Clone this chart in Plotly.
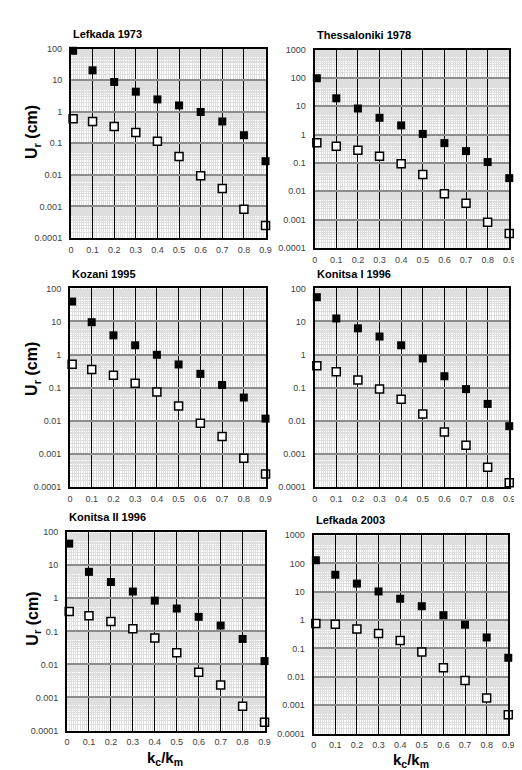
import plotly.graph_objects as go

W, H = 522, 770

# ---------------- data ----------------
kc_km = [0.01, 0.1, 0.2, 0.3, 0.4, 0.5, 0.6, 0.7, 0.8, 0.9]
x_tick_vals = [0, 0.1, 0.2, 0.3, 0.4, 0.5, 0.6, 0.7, 0.8, 0.9]
x_tick_labels = ["0", "0.1", "0.2", "0.3", "0.4", "0.5", "0.6", "0.7", "0.8", "0.9"]
y_tick_vals = [1e-4, 1e-3, 1e-2, 1e-1, 1, 10, 100, 1000]
y_tick_labels = ["0.0001", "0.001", "0.01", "0.1", "1", "10", "100", "1000"]

titles = ["Lefkada 1973", "Thessaloniki 1978", "Kozani 1995",
          "Konitsa I 1996", "Konitsa II 1996", "Lefkada 2003"]

lefkada1973_filled = [85, 20.4, 8.7, 4.3, 2.45, 1.58, 0.98, 0.49, 0.18, 0.027]
lefkada1973_open = [0.6, 0.49, 0.34, 0.22, 0.117, 0.038, 0.0093, 0.0037, 0.00081, 0.00025]

thessaloniki1978_filled = [97, 19, 8.3, 3.9, 2.1, 1.05, 0.5, 0.26, 0.107, 0.029]
thessaloniki1978_open = [0.51, 0.39, 0.28, 0.17, 0.093, 0.039, 0.0081, 0.0038, 0.00081, 0.00032]

kozani1995_filled = [40, 9.5, 3.8, 1.9, 0.98, 0.5, 0.26, 0.12, 0.05, 0.0115]
kozani1995_open = [0.51, 0.355, 0.235, 0.135, 0.073, 0.0275, 0.0083, 0.0033, 0.00073, 0.000245]

konitsa1_1996_filled = [54, 12.3, 6.2, 3.5, 1.9, 0.76, 0.22, 0.09, 0.032, 0.0068]
konitsa1_1996_open = [0.46, 0.30, 0.17, 0.091, 0.044, 0.016, 0.0045, 0.0018, 0.00039, 0.000132]

konitsa2_1996_filled = [45, 6.3, 3.1, 1.6, 0.85, 0.49, 0.275, 0.15, 0.059, 0.0126]
konitsa2_1996_open = [0.40, 0.295, 0.2, 0.12, 0.063, 0.0224, 0.0058, 0.0024, 0.00054, 0.000178]

lefkada2003_filled = [130, 40, 19.5, 10.3, 5.7, 3.1, 1.5, 0.69, 0.245, 0.047]
lefkada2003_open = [0.76, 0.71, 0.49, 0.34, 0.19, 0.075, 0.021, 0.0075, 0.0018, 0.00046]

filled_series = [lefkada1973_filled, thessaloniki1978_filled, kozani1995_filled,
                 konitsa1_1996_filled, konitsa2_1996_filled, lefkada2003_filled]
open_series = [lefkada1973_open, thessaloniki1978_open, kozani1995_open,
               konitsa1_1996_open, konitsa2_1996_open, lefkada2003_open]
y_log_ranges = [[-4, 2], [-4, 3], [-4, 2], [-4, 2], [-4, 2], [-4, 3]]

# ---------------- layout (pixel boxes of each plot area) ----------------
boxes = [  # (left, right, top, bottom) in px
    (61, 259, 36, 228),
    (309, 507, 37, 238),
    (60, 259, 279, 480),
    (309, 507, 279, 480),
    (57, 258, 526, 727),
    (308, 506, 529, 730),
]

FONT = "Liberation Sans, Arial, sans-serif"

# minor log gridlines (half-steps inside every decade)
minor_y = []
for k in range(-4, 3):
    m = 1.5
    while m < 10:
        minor_y.append(m * 10 ** k)
        m += 0.5

fig = go.Figure()
annotations = []

for i in range(6):
    l, r, t, b = boxes[i]
    xa = "x" if i == 0 else f"x{i+1}"
    ya = "y" if i == 0 else f"y{i+1}"
    xkey = "xaxis" if i == 0 else f"xaxis{i+1}"
    ykey = "yaxis" if i == 0 else f"yaxis{i+1}"

    fig.add_trace(go.Scatter(
        x=kc_km, y=open_series[i], mode="markers", xaxis=xa, yaxis=ya,
        marker=dict(symbol="square", size=8, color="white",
                    line=dict(color="black", width=1.5)),
        cliponaxis=False, showlegend=False))
    fig.add_trace(go.Scatter(
        x=kc_km, y=filled_series[i], mode="markers", xaxis=xa, yaxis=ya,
        marker=dict(symbol="square", size=8, color="black",
                    line=dict(color="black", width=0)),
        cliponaxis=False, showlegend=False))

    fig.layout[xkey] = dict(
        domain=[l / W, r / W], range=[0, 0.9], anchor=ya,
        tickmode="array", tickvals=x_tick_vals, ticktext=x_tick_labels,
        showgrid=True, gridcolor="black", gridwidth=1,
        minor=dict(dtick=0.01, tick0=0, showgrid=True, gridcolor="#dedede", gridwidth=1),
        showline=True, linecolor="black", linewidth=2, mirror=True,
        ticks="", ticklabelstandoff=2, zeroline=False,
        tickfont=dict(family=FONT, size=9, color="#404040"),
    )
    fig.layout[ykey] = dict(
        domain=[1 - b / H, 1 - t / H], type="log", range=y_log_ranges[i], anchor=xa,
        tickmode="array", tickvals=y_tick_vals, ticktext=y_tick_labels,
        showgrid=True, gridcolor="#8c8c8c", gridwidth=2,
        minor=dict(tickmode="array", tickvals=minor_y, showgrid=True,
                   gridcolor="#dedede", gridwidth=1),
        showline=True, linecolor="black", linewidth=2, mirror=True,
        ticks="", ticklabelstandoff=5, zeroline=False,
        tickfont=dict(family=FONT, size=9, color="#404040"),
    )

    annotations.append(dict(
        text=f"<b>{titles[i]}</b>", xref="paper", yref="paper",
        x=l / W, y=1 - (t - 15) / H, xanchor="left", yanchor="middle",
        showarrow=False, font=dict(family=FONT, size=11, color="black")))

# y-axis titles (left column)
for yc in [121, 361, 614]:
    annotations.append(dict(
        text="<b>U<sub>r</sub> (cm)</b>", xref="paper", yref="paper",
        x=22 / W, y=1 - yc / H, xanchor="center", yanchor="middle", textangle=-90,
        showarrow=False, font=dict(family=FONT, size=16, color="black")))

# x-axis titles (bottom row)
for xc, yc in [(157, 755), (407, 757.5)]:
    annotations.append(dict(
        text="<b>k<sub>c</sub>/k<sub>m</sub></b>", xref="paper", yref="paper",
        x=xc / W, y=1 - yc / H, xanchor="center", yanchor="middle",
        showarrow=False, borderpad=0,
        font=dict(family=FONT, size=15, color="black")))

fig.update_layout(
    width=W, height=H, margin=dict(l=0, r=0, t=0, b=0),
    paper_bgcolor="white", plot_bgcolor="white",
    annotations=annotations, showlegend=False,
)

fig.write_html("out.html")
